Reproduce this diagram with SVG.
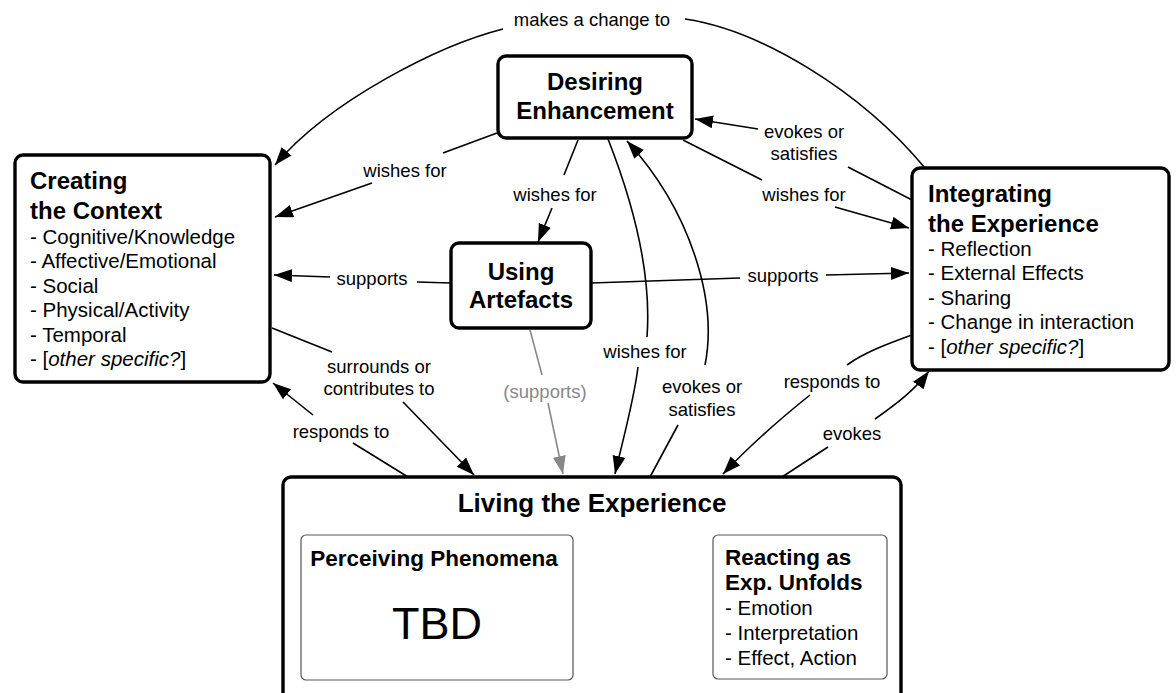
<svg xmlns="http://www.w3.org/2000/svg" width="1176" height="693" viewBox="0 0 1176 693">
<style>
text{font-family:"Liberation Sans",Arial,Helvetica,sans-serif;fill:#000}
.box{fill:#fff;stroke:#000;stroke-width:3.4}
.inner{fill:#fff;stroke:#555;stroke-width:1.2}
.t{font-size:24px;font-weight:bold}
.st{font-size:22.5px;font-weight:bold}
.it{font-size:20.5px}
.lb{font-size:18.5px;text-anchor:middle}
.c{fill:none;stroke:#000;stroke-width:1.6}
.g{fill:none;stroke:#888;stroke-width:1.6}
</style>
<defs>
<marker id="ah" markerUnits="userSpaceOnUse" markerWidth="19" markerHeight="14" refX="18" refY="6.5" orient="auto"><path d="M0,0 L18,6.5 L0,13 z" fill="#000"/></marker>
<marker id="ahg" markerUnits="userSpaceOnUse" markerWidth="19" markerHeight="14" refX="18" refY="6.5" orient="auto"><path d="M0,0 L18,6.5 L0,13 z" fill="#888"/></marker>
</defs>

<g id="connectors">
<!-- makes a change to -->
<path class="c" d="M685,19 C760,30 860,90 925,168"/>
<path class="c" d="M503,29 C440,45 330,100 275,165" marker-end="url(#ah)"/>
<text class="lb" x="592" y="26">makes a change to</text>
<!-- Desiring -> Creating wishes for -->
<path class="c" d="M497,133 L443,153"/>
<path class="c" d="M372,183 L275,217" marker-end="url(#ah)"/>
<text class="lb" x="405" y="177">wishes for</text>
<!-- Desiring -> Using wishes for -->
<path class="c" d="M578,140 L564,175"/>
<path class="c" d="M552,208 L538,242" marker-end="url(#ah)"/>
<text class="lb" x="555" y="201">wishes for</text>
<!-- Using -> Creating supports -->
<path class="c" d="M451,283 L417,282"/>
<path class="c" d="M330,277 L274,275" marker-end="url(#ah)"/>
<text class="lb" x="372" y="285">supports</text>
<!-- Using -> Integrating supports -->
<path class="c" d="M591,283 L740,278"/>
<path class="c" d="M826,275 L909,273" marker-end="url(#ah)"/>
<text class="lb" x="783" y="282">supports</text>
<!-- Desiring -> Integrating wishes for -->
<path class="c" d="M683,140 L762,180"/>
<path class="c" d="M835,207 L909,228" marker-end="url(#ah)"/>
<text class="lb" x="804" y="201">wishes for</text>
<!-- Integrating -> Desiring evokes or satisfies -->
<path class="c" d="M912,200 L848,167"/>
<path class="c" d="M758,129 L695,119" marker-end="url(#ah)"/>
<text class="lb" x="804" y="138">evokes or</text>
<text class="lb" x="804" y="160">satisfies</text>
<!-- Desiring -> Living wishes for -->
<path class="c" d="M608,139 C632,200 652,270 647,337"/>
<path class="c" d="M638,367 C634,400 624,435 615,474" marker-end="url(#ah)"/>
<text class="lb" x="645" y="358">wishes for</text>
<!-- Living -> Desiring evokes or satisfies -->
<path class="c" d="M650,477 L678,425"/>
<path class="c" d="M705,365 C718,300 690,210 627,141" marker-end="url(#ah)"/>
<text class="lb" x="702" y="393">evokes or</text>
<text class="lb" x="702" y="416">satisfies</text>
<!-- Using -> Living (supports) -->
<path class="g" d="M530,330 L542,375"/>
<path class="g" d="M548,403 L563,474" marker-end="url(#ahg)"/>
<text class="lb" x="545" y="398" style="fill:#888">(supports)</text>
<!-- Creating -> Living surrounds or contributes to -->
<path class="c" d="M272,328 L332,352"/>
<path class="c" d="M403,402 L474,475" marker-end="url(#ah)"/>
<text class="lb" x="379" y="373">surrounds or</text>
<text class="lb" x="379" y="395">contributes to</text>
<!-- Living -> Creating responds to -->
<path class="c" d="M408,477 L353,443"/>
<path class="c" d="M313,415 L273,383" marker-end="url(#ah)"/>
<text class="lb" x="341" y="438">responds to</text>
<!-- Integrating -> Living responds to -->
<path class="c" d="M912,335 C890,343 865,352 847,365"/>
<path class="c" d="M810,395 C785,415 755,440 723,474" marker-end="url(#ah)"/>
<text class="lb" x="832" y="388">responds to</text>
<!-- Living -> Integrating evokes -->
<path class="c" d="M782,477 L828,447"/>
<path class="c" d="M875,419 C895,405 915,390 929,371" marker-end="url(#ah)"/>
<text class="lb" x="852" y="440">evokes</text>
<!-- Reacting -> Perceiving reacts to -->
<path class="c" d="M714,597 L696,593"/>
<path class="c" d="M610,592 L575,596" marker-end="url(#ah)"/>
<text class="lb" x="654" y="597">reacts to</text>
<!-- Perceiving -> Reacting evokes -->
<path class="c" d="M574,623 L604,628"/>
<path class="c" d="M675,628 L713,623" marker-end="url(#ah)"/>
<text class="lb" x="639" y="636">evokes</text>
</g>

<g id="desiring">
<rect class="box" x="498" y="56" width="194" height="82" rx="8"/>
<text class="t" x="595" y="90" text-anchor="middle">Desiring</text>
<text class="t" x="595" y="119" text-anchor="middle">Enhancement</text>
</g>

<g id="creating">
<rect class="box" x="15" y="155" width="255" height="227" rx="8"/>
<text class="t" x="30" y="189">Creating</text>
<text class="t" x="30" y="219">the Context</text>
<text class="it" x="30" y="244">- Cognitive/Knowledge</text>
<text class="it" x="30" y="268">- Affective/Emotional</text>
<text class="it" x="30" y="293">- Social</text>
<text class="it" x="30" y="317">- Physical/Activity</text>
<text class="it" x="30" y="342">- Temporal</text>
<text class="it" x="30" y="366">- [<tspan font-style="italic">other specific?</tspan>]</text>
</g>

<g id="using">
<rect class="box" x="451" y="243" width="140" height="85" rx="8"/>
<text class="t" x="521" y="280" text-anchor="middle">Using</text>
<text class="t" x="521" y="308" text-anchor="middle">Artefacts</text>
</g>

<g id="integrating">
<rect class="box" x="912" y="168" width="257" height="202" rx="8"/>
<text class="t" x="928" y="202">Integrating</text>
<text class="t" x="928" y="232">the Experience</text>
<text class="it" x="928" y="256">- Reflection</text>
<text class="it" x="928" y="280">- External Effects</text>
<text class="it" x="928" y="305">- Sharing</text>
<text class="it" x="928" y="329">- Change in interaction</text>
<text class="it" x="928" y="354">- [<tspan font-style="italic">other specific?</tspan>]</text>
</g>

<g id="living">
<rect class="box" x="283" y="477" width="618" height="225" rx="8"/>
<text x="592" y="512" text-anchor="middle" style="font-size:26px;font-weight:bold">Living the Experience</text>
</g>

<g id="perceiving">
<rect class="inner" x="301" y="535" width="272" height="145" rx="5"/>
<text class="st" x="434" y="566" text-anchor="middle">Perceiving Phenomena</text>
<text x="437" y="639" text-anchor="middle" style="font-size:45px">TBD</text>
</g>

<g id="reacting">
<rect class="inner" x="713" y="535" width="174" height="144" rx="5"/>
<text class="st" x="725" y="565">Reacting as</text>
<text class="st" x="725" y="590">Exp. Unfolds</text>
<text class="it" x="725" y="615">- Emotion</text>
<text class="it" x="725" y="640">- Interpretation</text>
<text class="it" x="725" y="665">- Effect, Action</text>
</g>
</svg>
